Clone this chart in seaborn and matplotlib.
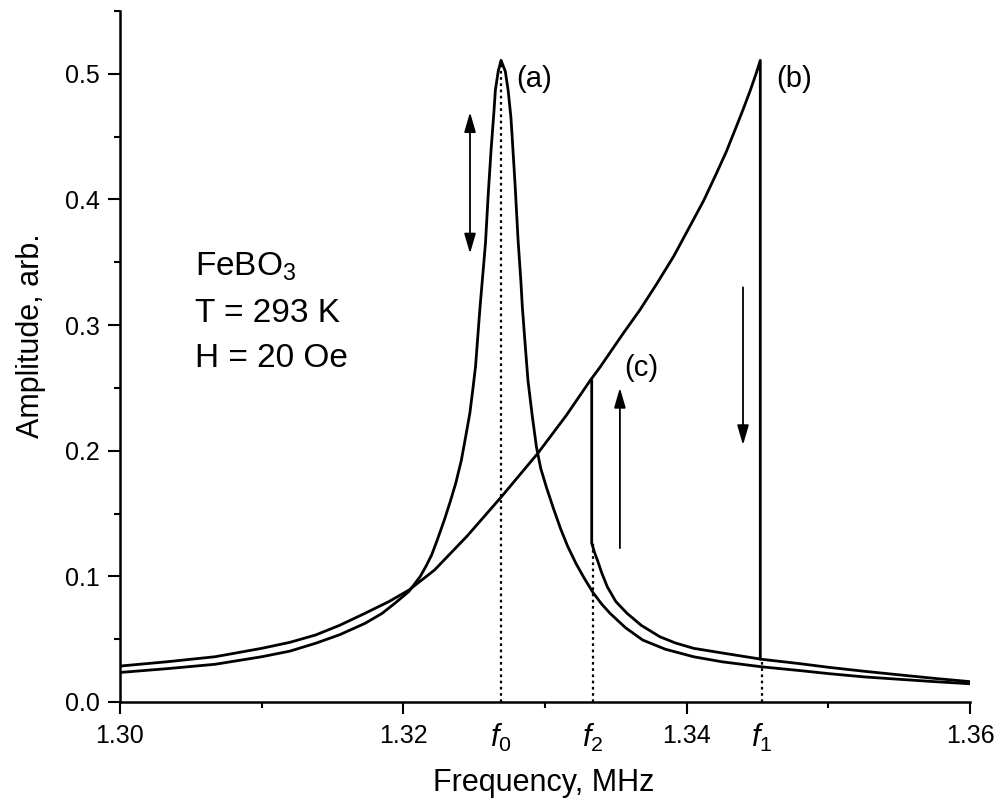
import matplotlib
matplotlib.use("Agg")
import matplotlib.pyplot as plt
import seaborn as sns
from matplotlib.ticker import MultipleLocator, FormatStrFormatter

# values
# curve (a): linear resonance
a_freq = [1.3000, 1.3033, 1.3067, 1.3100, 1.3120, 1.3138, 1.3155, 1.3173, 1.3185,
          1.3194, 1.3204, 1.3212, 1.3216, 1.3220, 1.3224, 1.3229, 1.3233, 1.3237,
          1.3241, 1.3244, 1.3247, 1.3249, 1.3251, 1.3254, 1.3258, 1.3260, 1.3262,
          1.3264, 1.3265, 1.3267, 1.3269, 1.3272, 1.3274, 1.3276, 1.3277, 1.3279,
          1.3281, 1.3283, 1.3284, 1.3286, 1.3288, 1.3291, 1.3294, 1.3297, 1.3301,
          1.3306, 1.3311, 1.3316, 1.3322, 1.3328, 1.3334, 1.3340, 1.3346, 1.3357,
          1.3369, 1.3385, 1.3405, 1.3425, 1.3453, 1.3480, 1.3501, 1.3525, 1.3551,
          1.3575, 1.3600]
a_amp = [0.0235, 0.0265, 0.0300, 0.0360, 0.0405, 0.0467, 0.0535, 0.0626, 0.0705,
         0.0785, 0.0880, 0.1000, 0.1080, 0.1170, 0.1290, 0.1450, 0.1590, 0.1740,
         0.1925, 0.2110, 0.2300, 0.2480, 0.2670, 0.3120, 0.3650, 0.4050, 0.4400,
         0.4700, 0.4870, 0.5020, 0.5107, 0.5020, 0.4870, 0.4650, 0.4470, 0.4100,
         0.3680, 0.3350, 0.3150, 0.2850, 0.2560, 0.2280, 0.2030, 0.1860, 0.1710,
         0.1540, 0.1380, 0.1240, 0.1100, 0.0980, 0.0870, 0.0780, 0.0705, 0.0590,
         0.0493, 0.0420, 0.0360, 0.0320, 0.0280, 0.0250, 0.0225, 0.0200, 0.0180,
         0.0162, 0.0145]

# curve (b): upward sweep, upper branch then jump down at f1
b_freq = [1.3000, 1.3033, 1.3067, 1.3100, 1.3120, 1.3138, 1.3155, 1.3173, 1.3190,
          1.3204, 1.3222, 1.3245, 1.3269, 1.3295, 1.3315, 1.3332, 1.3339, 1.3355,
          1.3367, 1.3379, 1.3391, 1.3402, 1.3412, 1.3421, 1.3428, 1.3435, 1.3440,
          1.3445, 1.3449, 1.3452, 1.3452]
b_amp = [0.0286, 0.0320, 0.0360, 0.0427, 0.0475, 0.0533, 0.0610, 0.0706, 0.0800,
         0.0891, 0.1050, 0.1320, 0.1630, 0.1980, 0.2280, 0.2560, 0.2667, 0.2930,
         0.3120, 0.3330, 0.3550, 0.3780, 0.3990, 0.4206, 0.4380, 0.4577, 0.4720,
         0.4870, 0.5000, 0.5107, 0.0340]

# curve (c): downward sweep, lower branch then jump up at f2
c_freq = [1.3333, 1.3333, 1.3335, 1.3337, 1.3340, 1.3344, 1.3350, 1.3358, 1.3368,
          1.3381, 1.3392, 1.3405, 1.3428, 1.3453, 1.3480, 1.3501, 1.3525, 1.3551,
          1.3575, 1.3600]
c_amp = [0.2560, 0.1265, 0.1190, 0.1130, 0.1030, 0.0917, 0.0800, 0.0705, 0.0610,
         0.0520, 0.0470, 0.0427, 0.0385, 0.0340, 0.0305, 0.0275, 0.0245, 0.0215,
         0.0188, 0.0162]

f0, f2, f1 = 1.3269, 1.3334, 1.3453
marker_freq = [f0, f2, f1]
marker_top = [0.5107, 0.1265, 0.0340]
marker_labels = [r"$\mathit{f_0}$", r"$\mathit{f_2}$", r"$\mathit{f_1}$"]

sns.set_theme(style="ticks")
plt.rcParams["font.family"] = ["Liberation Sans", "DejaVu Sans"]
plt.rcParams["mathtext.fontset"] = "custom"
plt.rcParams["mathtext.rm"] = "Liberation Sans"
plt.rcParams["mathtext.it"] = "Liberation Sans:italic"
plt.rcParams["text.color"] = "black"
plt.rcParams["axes.labelcolor"] = "black"

fig = plt.figure(figsize=(9.98, 8.01), dpi=100)
ax = fig.add_axes([0.1202, 0.1236, 0.8517, 0.8627])

# dotted guide lines at f0, f2, f1
for f, top in zip(marker_freq, marker_top):
    ax.plot([f, f], [0, top], color="black", lw=1.6, ls=(0, (1.2, 1.6)))

for fx, amp in [(a_freq, a_amp), (b_freq, b_amp), (c_freq, c_amp)]:
    sns.lineplot(x=fx, y=amp, ax=ax, sort=False, estimator=None,
                 color="black", lw=2.0)

ax.set_xlim(1.30, 1.36)
ax.set_ylim(0, 0.55)
ax.xaxis.set_major_locator(MultipleLocator(0.02))
ax.xaxis.set_minor_locator(MultipleLocator(0.01))
ax.yaxis.set_major_locator(MultipleLocator(0.1))
ax.yaxis.set_minor_locator(MultipleLocator(0.05))
ax.xaxis.set_major_formatter(FormatStrFormatter("%.2f"))
ax.yaxis.set_major_formatter(FormatStrFormatter("%.1f"))
ax.tick_params(which="major", direction="out", length=8.5, width=1.5,
               labelsize=18, color="black", labelcolor="black")
ax.tick_params(axis="x", which="major", pad=7)
ax.tick_params(axis="y", which="major", pad=6)
ax.tick_params(which="minor", direction="out", length=4.5, width=1.5, color="black")
for side in ["left", "bottom"]:
    ax.spines[side].set_linewidth(1.8)
    ax.spines[side].set_color("black")
sns.despine(ax=ax)

# frequency markers under the axis
for f, lab in zip(marker_freq, marker_labels):
    ax.annotate(lab, xy=(f, 0), xycoords=ax.get_xaxis_transform(),
                xytext=(0, -14), textcoords="offset points",
                ha="center", va="top", fontsize=22)

ax.set_xlabel("Frequency, MHz", fontsize=22)
ax.set_ylabel("Amplitude, arb.", fontsize=22)
ax.xaxis.set_label_coords(0.498, -0.095)
ax.yaxis.set_label_coords(-0.087, 0.53)

# curve labels
ax.text(1.3280, 0.4956, "(a)", fontsize=21, va="center", ha="left")
ax.text(1.3463, 0.4956, "(b)", fontsize=21, va="center", ha="left")
ax.text(1.3356, 0.2657, "(c)", fontsize=21, va="center", ha="left")

# sample info
ax.text(1.3053, 0.3397, "FeBO$_3$", fontsize=24, va="baseline")
ax.text(1.3053, 0.3023, "T = 293 K", fontsize=24, va="baseline")
ax.text(1.3053, 0.2665, "H = 20 Oe", fontsize=24, va="baseline")

# sweep arrows
head = "-|>,head_length=1.2,head_width=0.35"
ax.annotate("", xy=(1.32471, 0.4694), xytext=(1.32471, 0.357),
            arrowprops=dict(arrowstyle="<|-|>,head_length=1.2,head_width=0.35",
                            color="black", lw=1.3, shrinkA=0, shrinkB=0,
                            mutation_scale=10))
ax.annotate("", xy=(1.34398, 0.2045), xytext=(1.34398, 0.330),
            arrowprops=dict(arrowstyle=head, color="black", lw=1.3,
                            shrinkA=0, shrinkB=0, mutation_scale=10))
ax.annotate("", xy=(1.33529, 0.250), xytext=(1.33529, 0.1225),
            arrowprops=dict(arrowstyle=head, color="black", lw=1.3,
                            shrinkA=0, shrinkB=0, mutation_scale=10))

fig.savefig("out.png", dpi=100)
